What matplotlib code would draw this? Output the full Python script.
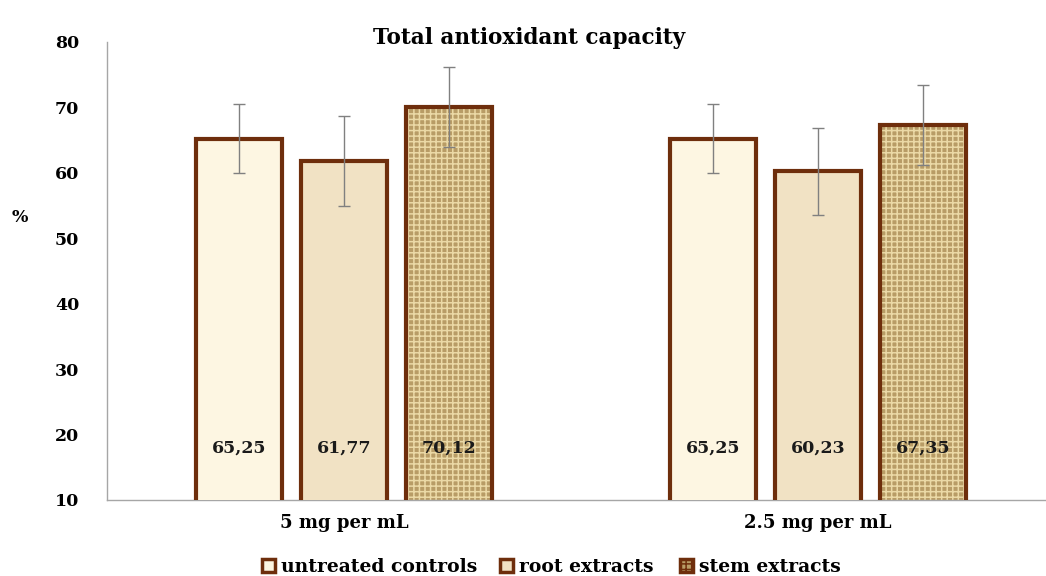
import matplotlib.pyplot as plt
import numpy as np
from matplotlib.patches import Patch

categories = ["5 mg per mL", "2.5 mg per mL"]
series = ["untreated controls", "root extracts", "stem extracts"]
values = {
    "untreated controls": [65.25, 65.25],
    "root extracts": [61.77, 60.23],
    "stem extracts": [70.12, 67.35],
}
errors = {
    "untreated controls": [5.2, 5.2],
    "root extracts": [6.85, 6.65],
    "stem extracts": [6.1, 6.1],
}
value_labels = {
    "untreated controls": ["65,25", "65,25"],
    "root extracts": ["61,77", "60,23"],
    "stem extracts": ["70,12", "67,35"],
}

faces = ["#FDF6E2", "#F1E2C4", "#B89C66"]
hatches = [None, None, "+++"]
edge = "#6E2E0C"

plt.rcParams['font.family'] = ['DejaVu Serif']
plt.rcParams['font.weight'] = 'bold'
plt.rcParams['hatch.linewidth'] = 1.1

fig = plt.figure(figsize=(10.46, 5.76), dpi=100)
ax = fig.add_axes([107 / 1046, 76 / 576, 948 / 1046, 458 / 576])

x = np.arange(len(categories))
width = 0.181
step = 0.2215
for i, s in enumerate(series):
    pos = x + (i - 1) * step
    if hatches[i]:
        # woven texture underneath, dark outline on top
        ax.bar(pos, values[s], width, color=faces[i], hatch=hatches[i],
               edgecolor="#EBD9A6", linewidth=0, zorder=2)
        ax.bar(pos, values[s], width, facecolor="none", edgecolor=edge,
               linewidth=3, zorder=3)
    else:
        ax.bar(pos, values[s], width, color=faces[i], edgecolor=edge,
               linewidth=3, zorder=3)
    ax.errorbar(pos, values[s], yerr=errors[s], fmt="none", ecolor="#808080",
                elinewidth=1, capsize=4, capthick=1, zorder=4)
    for p, lab in zip(pos, value_labels[s]):
        ax.text(p, 18, lab, ha="center", va="center", fontsize=12.5,
                fontweight="bold", color="#1a1a1a", zorder=5)

ax.set_xlim(-0.5, 1.5)
ax.set_ylim(10, 80)
ax.set_yticks(range(10, 81, 10))
ax.set_xticks(x)
ax.set_xticklabels(categories, fontsize=13, fontweight="bold")
ax.tick_params(axis="y", labelsize=12.5, length=0, pad=20)
ax.tick_params(axis="x", length=0, pad=10)
for sp in ["top", "right"]:
    ax.spines[sp].set_visible(False)
for sp in ["left", "bottom"]:
    ax.spines[sp].set_color("#A6A6A6")
    ax.spines[sp].set_linewidth(1)

fig.text(529 / 1046, 1 - 38 / 576, "Total antioxidant capacity", ha="center",
         va="center", fontsize=15.5, fontweight="bold")
fig.text(20 / 1046, 1 - 217 / 576, "%", ha="center", va="center",
         fontsize=12.5, fontweight="bold")

# one legend per entry so the uneven spacing of the original can be kept
legend_x = [262, 500, 680]
for i, s in enumerate(series):
    h = Patch(facecolor=faces[i], edgecolor=edge, linewidth=2.5, hatch=hatches[i])
    leg = fig.legend([h], [s], loc="center left",
                     bbox_to_anchor=(legend_x[i] / 1046, 1 - 567 / 576),
                     frameon=False, fontsize=13.5, handlelength=0.7,
                     handleheight=0.7, handletextpad=0.3, borderpad=0,
                     borderaxespad=0)

fig.savefig("out.png", dpi=100)
